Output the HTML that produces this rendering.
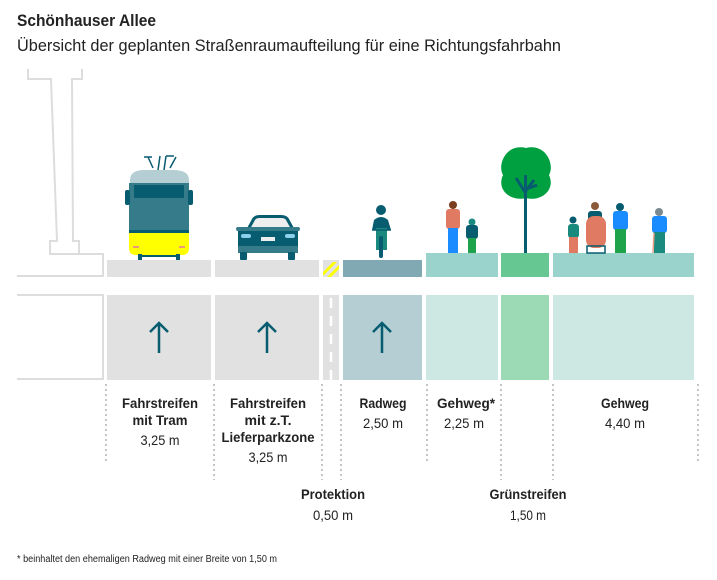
<!DOCTYPE html>
<html><head><meta charset="utf-8"><style>
body{margin:0;background:#fff;width:717px;height:580px;overflow:hidden}
svg{display:block}
text{font-family:"Liberation Sans",sans-serif;fill:#222}
.b{font-weight:bold;font-size:14px}
.n{font-size:14px}
</style></head><body>
<svg width="717" height="580" viewBox="0 0 717 580">
<text x="17" y="26" textLength="139" lengthAdjust="spacingAndGlyphs" style="font-weight:bold;font-size:17px">Schönhauser Allee</text>
<text x="17" y="51" textLength="544" lengthAdjust="spacingAndGlyphs" style="font-size:16.5px">Übersicht der geplanten Straßenraumaufteilung für eine Richtungsfahrbahn</text>
<g fill="none" stroke="#ddd" stroke-width="2">
<path d="M28 69 V79 H51 L57 241 H50 V254 H103 V276 H17"/>
<path d="M82 69 V79 H72 L73 241 H79 V254"/>
<path d="M17 295 H103 V379 H17"/>
</g>
<rect x="107" y="260" width="104" height="17" fill="#e1e1e1"/>
<rect x="215" y="260" width="104" height="17" fill="#e1e1e1"/>
<rect x="323" y="260" width="16" height="17" fill="#e1e1e1"/>
<path d="M323 272 L333 262 L337 262 L323 276Z M327 277 L339 265 L339 269 L331 277Z" fill="#ff0"/>
<rect x="343" y="260" width="79" height="17" fill="#81a9b3"/>
<rect x="426" y="253" width="72" height="24" fill="#9ad3cb"/>
<rect x="501" y="253" width="48" height="24" fill="#66c792"/>
<rect x="553" y="253" width="141" height="24" fill="#9ad3cb"/>
<rect x="107" y="295" width="104" height="85" fill="#e1e1e1"/>
<rect x="215" y="295" width="104" height="85" fill="#e1e1e1"/>
<rect x="323" y="295" width="16" height="85" fill="#e1e1e1"/>
<line x1="331" y1="298" x2="331" y2="380" stroke="#fff" stroke-width="2.5" stroke-dasharray="10 8"/>
<rect x="343" y="295" width="79" height="85" fill="#b4ced4"/>
<rect x="426" y="295" width="72" height="85" fill="#cde8e3"/>
<rect x="501" y="295" width="48" height="85" fill="#9bdab5"/>
<rect x="553" y="295" width="141" height="85" fill="#cde8e3"/>
<g stroke="#075c70" stroke-width="2.5" fill="none">
<path d="M159 353 V323 M150 332 L159 323 L168 332"/>
<path d="M267 353 V323 M258 332 L267 323 L276 332"/>
<path d="M382 353 V323 M373 332 L382 323 L391 332"/>
</g>
<g>
<path d="M153 168 L148 157 M158 170 L160 156 M164 170 L166 156 M170 168 L176 157 M144 157 H152 M166 156 H174" stroke="#075c70" stroke-width="1.5" fill="none"/>
<path d="M130 180 Q130 170 145 170 H173 Q189 170 189 180 V187 H130Z" fill="#b4ced4"/>
<rect x="129" y="183" width="60" height="50" fill="#367b8a"/>
<rect x="134" y="185" width="50" height="13" fill="#075c70"/>
<rect x="125" y="190" width="5" height="15" rx="2" fill="#075c70"/>
<rect x="188" y="190" width="5" height="15" rx="2" fill="#075c70"/>
<rect x="129" y="230" width="60" height="3" fill="#075c70"/>
<path d="M129 233 H189 V248 Q189 255 182 255 H136 Q129 255 129 248Z" fill="#ff0"/>
<rect x="133" y="246" width="6" height="2" fill="#e97"/><rect x="179" y="246" width="6" height="2" fill="#e97"/>
<rect x="139" y="255" width="40" height="2" fill="#075c70"/>
<rect x="138" y="254" width="4" height="6" fill="#075c70"/><rect x="176" y="254" width="4" height="6" fill="#075c70"/>
</g>
<g>
<path d="M246 230 L252 219 Q254 215 260 215 H281 Q287 215 289 219 L295 230Z" fill="#075c70"/>
<path d="M250 229 L255 220 Q256 218 260 218 H281 Q285 218 286 220 L291 229Z" fill="#eee"/>
<rect x="238" y="228" width="60" height="25" rx="3" fill="#075c70"/>
<rect x="236" y="227" width="64" height="4" rx="2" fill="#367b8a"/>
<rect x="238" y="246" width="60" height="7" fill="#367b8a"/>
<rect x="241" y="234" width="10" height="4" rx="2" fill="#8cd0ee"/><rect x="285" y="234" width="10" height="4" rx="2" fill="#8cd0ee"/>
<rect x="261" y="237" width="14" height="4" fill="#eee"/>
<rect x="240" y="252" width="7" height="8" rx="1" fill="#075c70"/><rect x="288" y="252" width="7" height="8" rx="1" fill="#075c70"/>
</g>
<g>
<circle cx="381" cy="210" r="5" fill="#075c70"/>
<path d="M374 220 Q381 214 388 220 L391 230 H372Z" fill="#075c70"/>
<rect x="376" y="228" width="11" height="22" fill="#1b8a7e"/>
<rect x="379" y="236" width="4" height="22" rx="2" fill="#075c70"/>
<line x1="372" y1="230" x2="391" y2="230" stroke="#075c70" stroke-width="1.5"/>
</g>
<g>
<circle cx="453" cy="205" r="4" fill="#7a3e20"/>
<rect x="446" y="209" width="14" height="20" rx="3" fill="#e07a62"/>
<rect x="448" y="228" width="10" height="25" fill="#1a8cff"/>
<circle cx="472" cy="222" r="3.5" fill="#1b8a7e"/>
<rect x="466" y="225" width="12" height="14" rx="3" fill="#075c70"/>
<rect x="468" y="238" width="8" height="15" fill="#1ea34a"/>
<path d="M526 148 C506 143 497 165 503 175 C496 190 511 202 526 198 C541 202 556 190 549 175 C555 165 546 143 526 148Z" fill="#00a040"/>
<rect x="524" y="175" width="3" height="78" fill="#075c70"/>
<path d="M516 178 L525 192 L534 180 M529 188 L537 185" stroke="#075c70" stroke-width="3" fill="none"/>
<circle cx="573" cy="220" r="3.5" fill="#075c70"/>
<rect x="568" y="224" width="11" height="14" rx="3" fill="#1b8a7e"/>
<rect x="569" y="237" width="9" height="16" fill="#e07a62"/>
<circle cx="595" cy="206" r="4" fill="#8a5a3a"/>
<rect x="588" y="211" width="14" height="12" rx="3" fill="#075c70"/>
<rect x="586" y="216" width="20" height="32" rx="8" fill="#e07a62"/>
<rect x="587" y="246" width="18" height="7" fill="none" stroke="#075c70" stroke-width="1.5"/>
<circle cx="620" cy="207" r="4" fill="#075c70"/>
<rect x="613" y="211" width="15" height="19" rx="3" fill="#1a8cff"/>
<rect x="615" y="229" width="11" height="24" fill="#1ea34a"/>
<circle cx="659" cy="212" r="4" fill="#7a8a90"/>
<rect x="652" y="216" width="15" height="17" rx="3" fill="#1a8cff"/>
<rect x="654" y="232" width="11" height="21" fill="#1b8a7e"/>
<line x1="654" y1="233" x2="653" y2="253" stroke="#e9a08a" stroke-width="1.5"/>
</g>
<g stroke="#888" stroke-width="1" stroke-dasharray="2 3">
<line x1="106" y1="384" x2="106" y2="463"/>
<line x1="214" y1="384" x2="214" y2="480"/>
<line x1="322" y1="384" x2="322" y2="480"/>
<line x1="341" y1="384" x2="341" y2="480"/>
<line x1="427" y1="384" x2="427" y2="463"/>
<line x1="501" y1="384" x2="501" y2="480"/>
<line x1="553" y1="384" x2="553" y2="480"/>
<line x1="698" y1="384" x2="698" y2="463"/>
</g>
<g text-anchor="middle" lengthAdjust="spacingAndGlyphs">
<text class="b" x="160" y="408" textLength="76" lengthAdjust="spacingAndGlyphs">Fahrstreifen</text>
<text class="b" x="160" y="425" textLength="55" lengthAdjust="spacingAndGlyphs">mit Tram</text>
<text class="n" x="160" y="445" textLength="39" lengthAdjust="spacingAndGlyphs">3,25 m</text>
<text class="b" x="268" y="408" textLength="76" lengthAdjust="spacingAndGlyphs">Fahrstreifen</text>
<text class="b" x="268" y="425" textLength="47" lengthAdjust="spacingAndGlyphs">mit z.T.</text>
<text class="b" x="268" y="442" textLength="93" lengthAdjust="spacingAndGlyphs">Lieferparkzone</text>
<text class="n" x="268" y="462" textLength="39" lengthAdjust="spacingAndGlyphs">3,25 m</text>
<text class="b" x="383" y="408" textLength="47" lengthAdjust="spacingAndGlyphs">Radweg</text>
<text class="n" x="383" y="428" textLength="40" lengthAdjust="spacingAndGlyphs">2,50 m</text>
<text class="b" x="466" y="408" textLength="58" lengthAdjust="spacingAndGlyphs">Gehweg*</text>
<text class="n" x="464" y="428" textLength="40" lengthAdjust="spacingAndGlyphs">2,25 m</text>
<text class="b" x="625" y="408" textLength="48" lengthAdjust="spacingAndGlyphs">Gehweg</text>
<text class="n" x="625" y="428" textLength="40" lengthAdjust="spacingAndGlyphs">4,40 m</text>
<text class="b" x="333" y="499" textLength="64" lengthAdjust="spacingAndGlyphs">Protektion</text>
<text class="n" x="333" y="520" textLength="40" lengthAdjust="spacingAndGlyphs">0,50 m</text>
<text class="b" x="528" y="499" textLength="77" lengthAdjust="spacingAndGlyphs">Grünstreifen</text>
<text class="n" x="528" y="520" textLength="36" lengthAdjust="spacingAndGlyphs">1,50 m</text>
</g>
<text x="17" y="562" textLength="260" lengthAdjust="spacingAndGlyphs" style="font-size:10px" fill="#444">*  beinhaltet den ehemaligen Radweg mit einer Breite von 1,50 m</text>
</svg>
</body></html>
